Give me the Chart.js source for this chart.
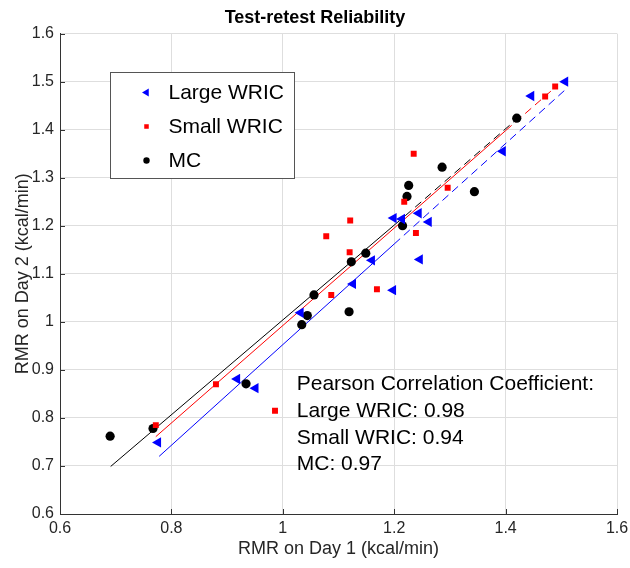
<!DOCTYPE html>
<html>
<head>
<meta charset="utf-8">
<title>Test-retest Reliability</title>
<script src="https://cdn.jsdelivr.net/npm/chart.js@4.4.0/dist/chart.umd.min.js"></script>
<style>
html, body { margin: 0; padding: 0; background: #fff; }
#wrap { width: 630px; height: 568px; }
</style>
</head>
<body>
<div id="wrap"><canvas id="rmrChart" width="630" height="568"></canvas></div>
<script>
// series names and colours
var seriesNames = ['Large WRIC', 'Small WRIC', 'MC'];
var seriesColors = ['#0000ff', '#ff0000', '#000000'];

// RMR day 1 (x) / day 2 (y), kcal/min
var largeX = [0.776, 0.918, 0.951, 1.032, 1.126, 1.160, 1.198, 1.199, 1.214, 1.244, 1.262, 1.246, 1.395, 1.446, 1.507];
var largeY = [0.749, 0.881, 0.862, 1.019, 1.079, 1.128, 1.066, 1.216, 1.214, 1.226, 1.208, 1.130, 1.355, 1.470, 1.500];

var smallX = [0.772, 0.880, 0.986, 1.078, 1.087, 1.120, 1.121, 1.169, 1.218, 1.239, 1.235, 1.296, 1.471, 1.489];
var smallY = [0.785, 0.870, 0.815, 1.178, 1.056, 1.145, 1.211, 1.068, 1.250, 1.185, 1.350, 1.279, 1.469, 1.490];

var mcX = [0.690, 0.767, 0.934, 1.034, 1.044, 1.056, 1.119, 1.123, 1.149, 1.215, 1.223, 1.226, 1.286, 1.344, 1.420];
var mcY = [0.762, 0.778, 0.871, 0.994, 1.013, 1.056, 1.021, 1.125, 1.143, 1.200, 1.261, 1.284, 1.322, 1.271, 1.424];

// fit lines: start, end of solid part, end of dashed part
var largeFitX = [0.778, 1.200, 1.508];
var largeFitY = [0.720, 1.162, 1.484];
var smallFitX = [0.772, 1.400, 1.492];
var smallFitY = [0.761, 1.398, 1.491];
var mcFitX = [0.691, 1.220, 1.420];
var mcFitY = [0.699, 1.221, 1.422];

var xTicks = [0.6, 0.8, 1, 1.2, 1.4, 1.6];
var yTicks = [0.6, 0.7, 0.8, 0.9, 1, 1.1, 1.2, 1.3, 1.4, 1.5, 1.6];

var pearsonTitle = 'Pearson Correlation Coefficient:';
var pearsonR = [0.98, 0.94, 0.97];

var fontFam = '"Liberation Sans", Arial, Helvetica, sans-serif';

function toPoints(xs, ys) {
	var pts = [];
	for (var i = 0; i < xs.length; i++) {
		pts.push({ x: xs[i], y: ys[i] });
	}
	return pts;
}

function fitPart(xs, ys, from, to, color, dashed) {
	return {
		label: '',
		data: [{ x: xs[from], y: ys[from] }, { x: xs[to], y: ys[to] }],
		showLine: true,
		borderColor: color,
		borderWidth: 1,
		borderDash: dashed ? [8, 5] : [],
		pointRadius: 0,
		fill: false
	};
}

var markerStyles = [
	{ pointStyle: 'triangle', rotation: -90, radius: 6, legendRadius: 4.5 },
	{ pointStyle: 'rect', rotation: 0, radius: 4.2, legendRadius: 3.2 },
	{ pointStyle: 'circle', rotation: 0, radius: 4.6, legendRadius: 3.2 }
];

var seriesX = [largeX, smallX, mcX];
var seriesY = [largeY, smallY, mcY];

var datasets = [];
for (var s = 0; s < 3; s++) {
	datasets.push({
		label: seriesNames[s],
		data: toPoints(seriesX[s], seriesY[s]),
		backgroundColor: seriesColors[s],
		borderColor: seriesColors[s],
		borderWidth: 0,
		pointStyle: markerStyles[s].pointStyle,
		rotation: markerStyles[s].rotation,
		pointRadius: markerStyles[s].radius,
		showLine: false
	});
}
datasets.push(fitPart(largeFitX, largeFitY, 0, 1, seriesColors[0], false));
datasets.push(fitPart(largeFitX, largeFitY, 1, 2, seriesColors[0], true));
datasets.push(fitPart(smallFitX, smallFitY, 0, 1, seriesColors[1], false));
datasets.push(fitPart(smallFitX, smallFitY, 1, 2, seriesColors[1], true));
datasets.push(fitPart(mcFitX, mcFitY, 0, 1, seriesColors[2], false));
datasets.push(fitPart(mcFitX, mcFitY, 1, 2, seriesColors[2], true));

// inward ticks, legend box and the correlation text
var extras = {
	id: 'extras',
	afterDraw: function (chart) {
		var ctx = chart.ctx;
		var xs = chart.scales.x;
		var ys = chart.scales.y;
		var area = chart.chartArea;

		ctx.save();
		ctx.strokeStyle = '#333333';
		ctx.lineWidth = 1;
		ctx.beginPath();
		xTicks.forEach(function (v) {
			var px = Math.round(xs.getPixelForValue(v)) + 0.5;
			ctx.moveTo(px, area.bottom);
			ctx.lineTo(px, area.bottom - 5);
		});
		yTicks.forEach(function (v) {
			var py = Math.round(ys.getPixelForValue(v)) + 0.5;
			ctx.moveTo(area.left, py);
			ctx.lineTo(area.left + 5, py);
		});
		ctx.stroke();

		// legend
		var bx = 110.5, by = 72.5, bw = 184, bh = 106;
		ctx.fillStyle = '#ffffff';
		ctx.fillRect(bx, by, bw, bh);
		ctx.strokeStyle = '#555555';
		ctx.strokeRect(bx, by, bw, bh);
		ctx.font = '21px ' + fontFam;
		ctx.textBaseline = 'middle';
		ctx.textAlign = 'left';
		for (var i = 0; i < seriesNames.length; i++) {
			var ly = by + 20 + i * 34;
			ctx.fillStyle = seriesColors[i];
			Chart.helpers.drawPoint(ctx, {
				pointStyle: markerStyles[i].pointStyle,
				rotation: markerStyles[i].rotation,
				radius: markerStyles[i].legendRadius,
				borderWidth: 0
			}, bx + 36, ly);
			ctx.fillStyle = '#000000';
			ctx.fillText(seriesNames[i], bx + 58, ly + 1);
		}

		// pearson text
		var tx = xs.getPixelForValue(1.025);
		var ty = ys.getPixelForValue(0.870);
		ctx.fillStyle = '#000000';
		ctx.fillText(pearsonTitle, tx, ty);
		for (var j = 0; j < pearsonR.length; j++) {
			ctx.fillText(seriesNames[j] + ': ' + pearsonR[j].toFixed(2), tx, ty + 26.8 * (j + 1));
		}
		ctx.restore();
	}
};

var ctx = document.getElementById('rmrChart');

var chart = new Chart(ctx, {
	type: 'scatter',
	data: { datasets: datasets },
	options: {
		responsive: false,
		animation: false,
		devicePixelRatio: 1,
		layout: { padding: { left: 0, right: 0, top: 0, bottom: 0 } },
		plugins: {
			legend: { display: false },
			tooltip: { enabled: false },
			title: {
				display: true,
				text: 'Test-retest Reliability',
				color: '#000000',
				font: { family: fontFam, size: 18, weight: 'bold' },
				padding: { top: 7, bottom: 5 }
			}
		},
		scales: {
			x: {
				type: 'linear',
				min: 0.6,
				max: 1.6,
				afterBuildTicks: function (s) { s.ticks = xTicks.map(function (v) { return { value: v }; }); },
				afterFit: function (s) {
					s.height = 54;
					s.paddingLeft = 0;
					s.paddingRight = 13;
				},
				ticks: {
					autoSkip: false,
					maxRotation: 0,
					padding: 5,
					color: '#262626',
					font: { family: fontFam, size: 16 },
					callback: function (v) { return String(Math.round(v * 10) / 10); }
				},
				grid: { color: '#dedede', drawTicks: false },
				border: { color: '#333333' },
				title: {
					display: true,
					text: 'RMR on Day 1 (kcal/min)',
					color: '#262626',
					font: { family: fontFam, size: 18 },
					padding: { top: 0, bottom: 8 }
				}
			},
			y: {
				type: 'linear',
				min: 0.6,
				max: 1.6,
				afterBuildTicks: function (s) { s.ticks = yTicks.map(function (v) { return { value: v }; }); },
				afterFit: function (s) { s.width = 60; },
				ticks: {
					autoSkip: false,
					padding: 6,
					color: '#262626',
					font: { family: fontFam, size: 16 },
					callback: function (v) { return String(Math.round(v * 10) / 10); }
				},
				grid: { color: '#dedede', drawTicks: false },
				border: { color: '#333333' },
				title: {
					display: true,
					text: 'RMR on Day 2 (kcal/min)',
					color: '#262626',
					font: { family: fontFam, size: 18 },
					padding: { top: 12, bottom: 0 }
				}
			}
		}
	},
	plugins: [extras]
});
</script>
</body>
</html>
